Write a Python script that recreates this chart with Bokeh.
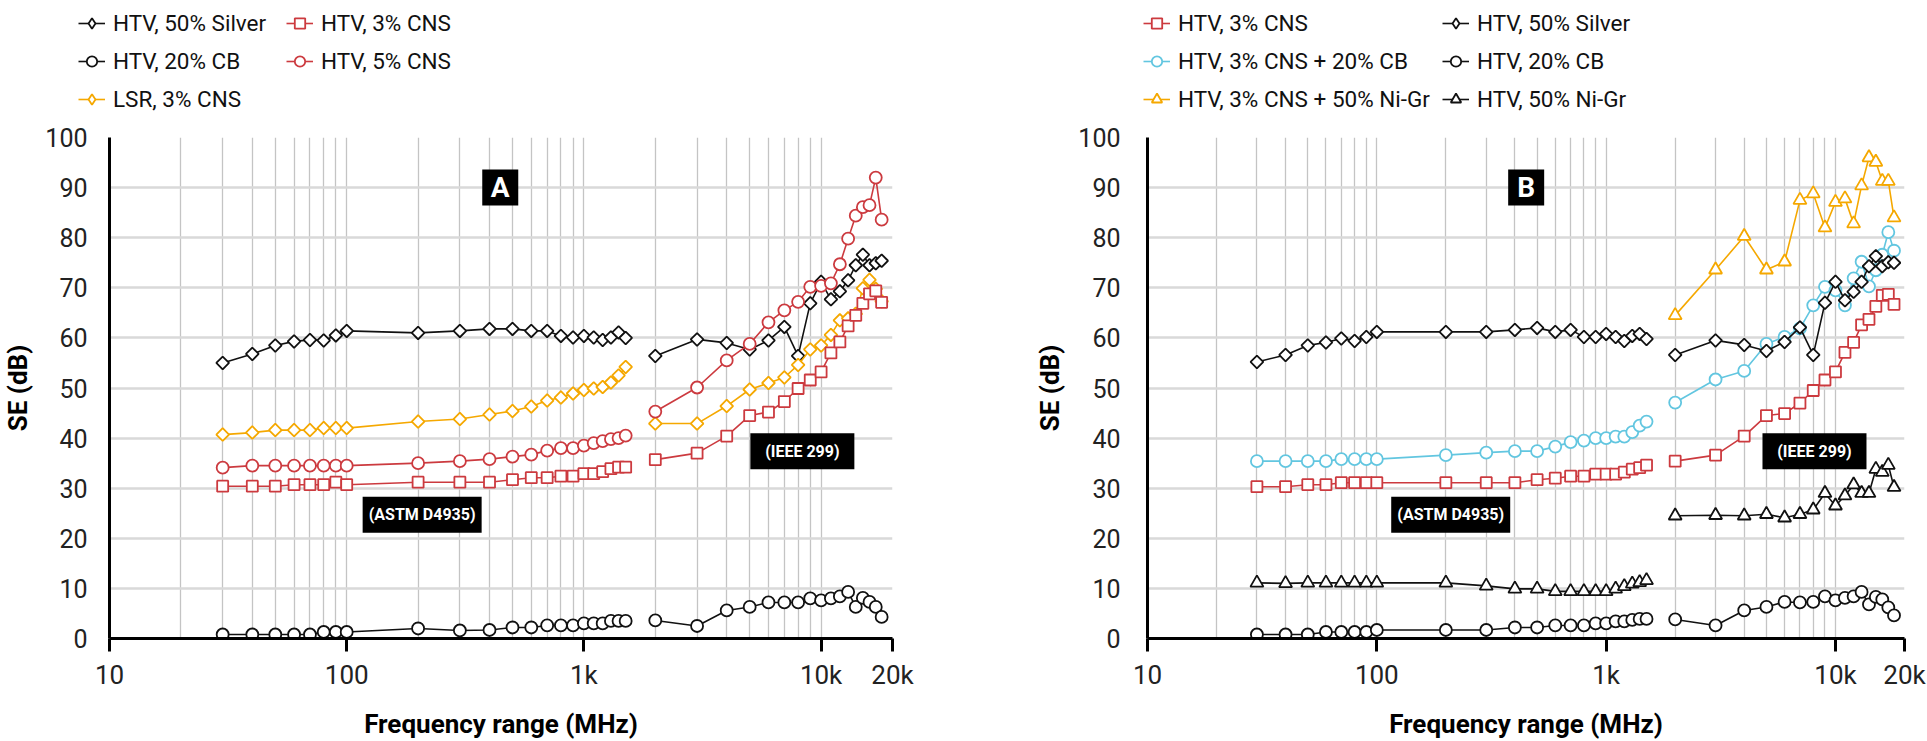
import math
from bokeh.plotting import figure
from bokeh.models import Range1d, FixedTicker, Legend, LegendItem, Label
from bokeh.layouts import row, column
from bokeh.embed import file_html
from bokeh.resources import INLINE

# ---------------- data ----------------
FREQ_LOW = [30, 40, 50, 60, 70, 80, 90, 100, 200, 300, 400, 500, 600, 700, 800, 900,
            1000, 1100, 1200, 1300, 1400, 1500]
FREQ_HIGH = [2000, 3000, 4000, 5000, 6000, 7000, 8000, 9000, 10000, 11000, 12000,
             13000, 14000, 15000, 16000, 17000, 18000]

X_TICKS = [10, 100, 1000, 10000, 20000]
X_TICK_LABELS = ["10", "100", "1k", "10k", "20k"]
Y_TICKS = [0, 10, 20, 30, 40, 50, 60, 70, 80, 90, 100]

# Panel A
A_SILVER_LOW = [55.0, 56.8, 58.5, 59.3, 59.6, 59.5, 60.5, 61.4, 61.0, 61.4, 61.8, 61.8,
                61.4, 61.4, 60.4, 60.1, 60.4, 60.1, 59.6, 60.1, 61.1, 60.0]
A_SILVER_HIGH = [56.4, 59.7, 59.0, 57.7, 59.5, 62.2, 56.4, 66.9, 71.2, 67.7, 69.3, 71.5,
                 74.5, 76.6, 74.5, 74.9, 75.4]
A_CB_LOW = [0.8, 0.8, 0.8, 0.8, 0.8, 1.3, 1.3, 1.3, 2.0, 1.6, 1.7, 2.2, 2.2, 2.6, 2.6,
            2.6, 3.0, 3.0, 3.0, 3.5, 3.5, 3.5]
A_CB_HIGH = [3.6, 2.5, 5.6, 6.3, 7.2, 7.2, 7.2, 8.0, 7.6, 8.0, 8.4, 9.3, 6.3, 8.1, 7.3,
             6.3, 4.3]
A_LSR_LOW = [40.7, 41.1, 41.6, 41.6, 41.6, 42.0, 42.0, 42.0, 43.3, 43.8, 44.7, 45.4,
             46.3, 47.5, 48.1, 48.9, 49.6, 49.9, 50.2, 51.1, 52.5, 54.2]
A_LSR_HIGH = [42.9, 42.9, 46.4, 49.7, 51.0, 52.1, 54.6, 57.7, 58.5, 60.6, 63.5, 63.9,
              64.8, 69.9, 71.6, 69.8, 67.3]
A_CNS3_LOW = [30.4, 30.4, 30.4, 30.7, 30.7, 30.7, 31.2, 30.7, 31.2, 31.2, 31.2, 31.7,
              32.1, 32.1, 32.4, 32.4, 32.9, 32.9, 33.3, 33.9, 34.2, 34.2]
A_CNS3_HIGH = [35.7, 37.0, 40.4, 44.5, 45.2, 47.3, 49.9, 51.6, 53.2, 57.0, 59.2, 62.4,
               64.5, 66.9, 68.8, 69.4, 67.1]
A_CNS5_LOW = [34.1, 34.5, 34.5, 34.5, 34.5, 34.5, 34.5, 34.5, 35.0, 35.4, 35.8, 36.3,
              36.7, 37.5, 38.0, 38.0, 38.5, 39.0, 39.4, 39.8, 40.0, 40.5]
A_CNS5_HIGH = [45.3, 50.1, 55.5, 58.8, 63.1, 65.5, 67.2, 70.2, 70.4, 70.9, 74.7, 79.8,
               84.4, 86.1, 86.5, 92.0, 83.6]

# Panel B
B_CNS3_LOW = [30.3, 30.3, 30.7, 30.7, 31.1, 31.1, 31.1, 31.1, 31.1, 31.1, 31.1, 31.7,
              32.0, 32.4, 32.4, 32.8, 32.8, 32.8, 33.2, 33.8, 34.1, 34.6]
B_CNS3_HIGH = [35.4, 36.6, 40.4, 44.5, 44.9, 47.0, 49.5, 51.6, 53.2, 57.1, 59.1, 62.6,
               63.7, 66.3, 68.5, 68.7, 66.7]
B_CNS3CB_LOW = [35.4, 35.4, 35.4, 35.4, 35.8, 35.8, 35.8, 35.8, 36.6, 37.1, 37.4, 37.4,
                38.3, 39.2, 39.5, 40.0, 40.0, 40.3, 40.3, 41.2, 42.5, 43.3]
B_CNS3CB_HIGH = [47.1, 51.7, 53.4, 58.8, 60.2, 61.9, 66.5, 70.2, 69.5, 66.5, 71.9, 75.2,
                 70.3, 73.5, 76.6, 81.1, 77.4]
B_CNS3NIGR_HIGH = [64.5, 73.6, 80.3, 73.6, 75.2, 87.5, 88.8, 82.0, 87.1, 87.8, 82.8,
                   90.4, 96.0, 95.1, 91.3, 91.3, 84.0]
B_SILVER_LOW = [55.2, 56.6, 58.5, 59.1, 59.9, 59.4, 60.2, 61.2, 61.2, 61.2, 61.6, 62.0,
                61.2, 61.6, 60.2, 60.2, 60.8, 60.2, 59.4, 60.4, 60.8, 59.8]
B_SILVER_HIGH = [56.6, 59.5, 58.6, 57.4, 59.2, 62.1, 56.6, 67.0, 71.2, 67.5, 69.2, 71.2,
                 74.3, 76.3, 74.3, 75.1, 75.0]
B_CB_LOW = [0.8, 0.8, 0.8, 1.3, 1.3, 1.3, 1.3, 1.7, 1.7, 1.7, 2.2, 2.2, 2.6, 2.6, 2.6,
            3.0, 3.0, 3.4, 3.4, 3.7, 3.9, 3.9]
B_CB_HIGH = [3.8, 2.6, 5.6, 6.3, 7.3, 7.2, 7.3, 8.4, 7.6, 8.1, 8.4, 9.3, 6.8, 8.3, 7.8,
             6.2, 4.6]
B_NIGR_LOW = [11.1, 11.0, 11.1, 11.1, 11.1, 11.1, 11.1, 11.1, 11.1, 10.5, 9.9, 9.9, 9.4,
              9.4, 9.4, 9.4, 9.4, 9.9, 10.4, 10.9, 11.2, 11.6]
B_NIGR_HIGH = [24.5, 24.6, 24.5, 24.8, 24.1, 24.8, 25.7, 29.0, 26.5, 28.5, 30.7, 29.0,
               29.0, 33.8, 33.2, 34.6, 30.2]

# ---------------- styles ----------------
BLACK = "#111111"
RED = "#cc3a3f"
ORANGE = "#f5a800"
BLUE = "#62c6e0"
TICK_FONT = "Roboto"
LEGEND_FONT = "Roboto"
BOLD_FONT = "Roboto"
MINOR = [m * d for d in (10, 100, 1000) for m in range(2, 10)]
DIAMOND = dict(marker="square", size=9, angle=math.pi / 4)
DIAMOND_KEY = dict(marker="diamond", size=14)


def make_fig(width, left, right, ystandoff, title_standoff):
    p = figure(width=width, height=621, x_axis_type="log", title=None,
               x_range=Range1d(10, 20000), y_range=Range1d(0, 100),
               output_backend="svg", toolbar_location=None,
               min_border_left=left, min_border_right=right,
               min_border_top=17, min_border_bottom=100,
               x_axis_label="Frequency range (MHz)", y_axis_label="SE (dB)")
    p.outline_line_color = None
    p.background_fill_color = "white"
    p.border_fill_color = "white"
    xa = p.xaxis[0]
    xa.ticker = FixedTicker(ticks=X_TICKS, minor_ticks=[])
    xa.major_label_overrides = {t: lab for t, lab in zip(X_TICKS, X_TICK_LABELS)}
    xa.axis_line_width = 3
    xa.axis_line_color = "black"
    xa.major_tick_line_width = 3
    xa.major_tick_line_color = "black"
    xa.major_tick_out = 13
    xa.major_tick_in = 0
    xa.minor_tick_line_color = None
    xa.major_label_text_font = TICK_FONT
    xa.major_label_text_font_size = "26px"
    xa.major_label_text_color = "#222222"
    xa.major_label_standoff = 8
    xa.axis_label_text_font = BOLD_FONT
    xa.axis_label_text_font_style = "bold"
    xa.axis_label_text_font_size = "26px"
    xa.axis_label_text_color = "black"
    xa.axis_label_standoff = 16
    ya = p.yaxis[0]
    ya.ticker = FixedTicker(ticks=Y_TICKS)
    ya.axis_line_width = 3
    ya.axis_line_color = "black"
    ya.major_tick_line_color = None
    ya.minor_tick_line_color = None
    ya.major_tick_out = 0
    ya.major_tick_in = 0
    ya.major_label_standoff = ystandoff
    ya.major_label_text_font = TICK_FONT
    ya.major_label_text_font_size = "25px"
    ya.major_label_text_color = "#222222"
    ya.axis_label_text_font = BOLD_FONT
    ya.axis_label_text_font_style = "bold"
    ya.axis_label_text_font_size = "26px"
    ya.axis_label_text_color = "black"
    ya.axis_label_standoff = title_standoff
    p.xgrid.ticker = FixedTicker(ticks=[100, 1000, 10000], minor_ticks=MINOR)
    p.xgrid.grid_line_color = "#c4c4c4"
    p.xgrid.grid_line_width = 1.3
    p.xgrid.minor_grid_line_color = "#c4c4c4"
    p.xgrid.minor_grid_line_width = 1.3
    p.ygrid.grid_line_color = "#d9d9d9"
    p.ygrid.grid_line_width = 2.5
    return p


def make_legend_fig(width):
    p = figure(width=width, height=120, title=None, x_range=Range1d(0, 1),
               y_range=Range1d(0, 1), x_axis_location=None, y_axis_location=None,
               output_backend="svg", toolbar_location=None, min_border=0)
    p.outline_line_color = None
    p.grid.visible = False
    return p


def add_series(p, bands, color, marker, size, angle=0.0):
    rs = []
    for xs, ys in bands:
        l = p.line(xs, ys, line_color=color, line_width=1.6)
        s = p.scatter(xs, ys, marker=marker, size=size, angle=angle,
                      fill_color="white", line_color=color, line_width=1.8)
        rs.append((l, s))
    return [rs[0][0], rs[0][1]]


def add_legend(p, entries, x, y):
    items = [LegendItem(label=lab, renderers=r) for lab, r in entries]
    lg = Legend(items=items, location=(x, y), orientation="vertical")
    lg.border_line_color = None
    lg.background_fill_alpha = 0
    lg.padding = 0
    lg.margin = 0
    lg.spacing = 12
    lg.glyph_width = 27
    lg.glyph_height = 26
    lg.label_height = 26
    lg.label_standoff = 8
    lg.label_text_font = LEGEND_FONT
    lg.label_text_font_size = "22.5px"
    lg.label_text_color = "#111111"
    p.add_layout(lg)


def add_box(p, x, y, w, h, text, size):
    p.rect(x=[x], y=[y], width=w, height=h, width_units="screen",
           height_units="screen", fill_color="black", line_color=None)
    p.add_layout(Label(x=x, y=y, text=text, text_align="center",
                       text_baseline="middle", text_color="white",
                       text_font=BOLD_FONT, text_font_style="bold",
                       text_font_size=size))


def build(p, leg, series):
    entries = []
    for label, bands, color, mk in series:
        add_series(p, bands, color, **mk)
        key = DIAMOND_KEY if mk is DIAMOND else mk
        entries.append((label, add_series(leg, bands, color, **key)))
    return entries


# ---------------- panel A ----------------
pA = make_fig(960, 105, 68, 22, 9)
lA = make_legend_fig(960)
SERIES_A = [
    ("HTV, 50% Silver", [(FREQ_LOW, A_SILVER_LOW), (FREQ_HIGH, A_SILVER_HIGH)], BLACK, DIAMOND),
    ("HTV, 20% CB", [(FREQ_LOW, A_CB_LOW), (FREQ_HIGH, A_CB_HIGH)], BLACK, dict(marker="circle", size=12)),
    ("LSR, 3% CNS", [(FREQ_LOW, A_LSR_LOW), (FREQ_HIGH, A_LSR_HIGH)], ORANGE, DIAMOND),
    ("HTV, 3% CNS", [(FREQ_LOW, A_CNS3_LOW), (FREQ_HIGH, A_CNS3_HIGH)], RED, dict(marker="square", size=11)),
    ("HTV, 5% CNS", [(FREQ_LOW, A_CNS5_LOW), (FREQ_HIGH, A_CNS5_HIGH)], RED, dict(marker="circle", size=12)),
]
entries_A = build(pA, lA, SERIES_A)
add_box(pA, 444, 90, 36, 36, "A", "28px")
add_box(pA, 208, 24.7, 119, 36, "(ASTM D4935)", "16px")
add_box(pA, 8337, 37.4, 104, 36, "(IEEE 299)", "16px")
add_legend(lA, entries_A[:3], 78, 8.5)
add_legend(lA, entries_A[3:], 286, 46.5)

# ---------------- panel B ----------------
pB = make_fig(967, 187, 23, 27, 10)
lB = make_legend_fig(967)
SERIES_B = [
    ("HTV, 3% CNS", [(FREQ_LOW, B_CNS3_LOW), (FREQ_HIGH, B_CNS3_HIGH)], RED, dict(marker="square", size=11)),
    ("HTV, 3% CNS + 20% CB", [(FREQ_LOW, B_CNS3CB_LOW), (FREQ_HIGH, B_CNS3CB_HIGH)], BLUE, dict(marker="circle", size=12)),
    ("HTV, 3% CNS + 50% Ni-Gr", [(FREQ_HIGH, B_CNS3NIGR_HIGH)], ORANGE, dict(marker="triangle", size=13)),
    ("HTV, 50% Silver", [(FREQ_LOW, B_SILVER_LOW), (FREQ_HIGH, B_SILVER_HIGH)], BLACK, DIAMOND),
    ("HTV, 20% CB", [(FREQ_LOW, B_CB_LOW), (FREQ_HIGH, B_CB_HIGH)], BLACK, dict(marker="circle", size=12)),
    ("HTV, 50% Ni-Gr", [(FREQ_LOW, B_NIGR_LOW), (FREQ_HIGH, B_NIGR_HIGH)], BLACK, dict(marker="triangle", size=13)),
]
entries_B = build(pB, lB, SERIES_B)
add_box(pB, 448, 90, 36, 36, "B", "28px")
add_box(pB, 210, 24.7, 119, 36, "(ASTM D4935)", "16px")
add_box(pB, 8100, 37.4, 104, 36, "(IEEE 299)", "16px")
add_legend(lB, entries_B[:3], 183, 8.5)
add_legend(lB, entries_B[3:], 482, 8.5)

layout = column(row(lA, lB), row(pA, pB))
open("out.html", "w").write(file_html(layout, INLINE))
